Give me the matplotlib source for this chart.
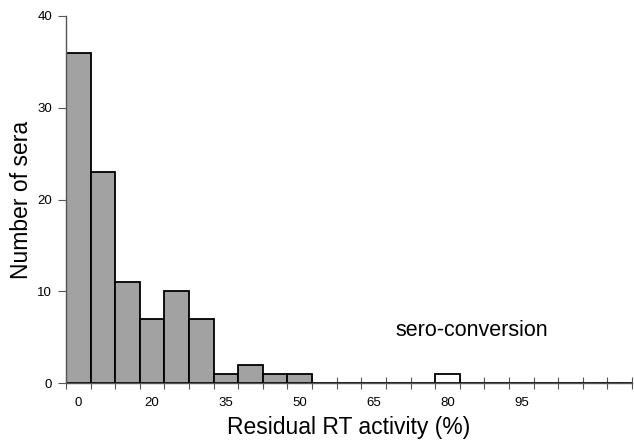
import matplotlib
matplotlib.use('Agg')
from matplotlib import pyplot as plt
import numpy as np

# Data (Excel-style category histogram)
counts      = [36, 23, 11, 7, 10, 7, 1, 2, 1, 1, 0, 0, 0, 0, 0, 1, 0, 0, 0, 0, 0, 0, 0]
open_bins   = [15]                     # sero-conversion bar, drawn white
label_pos   = [0, 3, 6, 9, 12, 15, 18]
tick_labels = ['0', '20', '35', '50', '65', '80', '95']
y_ticks     = [0, 10, 20, 30, 40]

plt.rcParams['font.family'] = ['Liberation Sans', 'DejaVu Sans']

fig = plt.figure(figsize=(6.34, 4.43), dpi=100)
ax = fig.add_axes([66/634, 60/443, 566/634, 367/443])

x = np.arange(len(counts))
colors = ['white' if i in open_bins else '#a2a2a2' for i in x]
ax.bar(x, counts, width=1.0, color=colors, edgecolor='black', linewidth=1.3, zorder=2)

ax.set_xlim(-0.5, -0.5 + 566/25)
ax.set_ylim(0, 40)

# Spines
for s in ['top', 'right']:
    ax.spines[s].set_visible(False)
for s in ['left', 'bottom']:
    ax.spines[s].set_color('#555555')
    ax.spines[s].set_linewidth(1.0)

# Ticks
ax.set_yticks(y_ticks)
ax.tick_params(axis='y', direction='out', length=6, width=0.8, color='#555555', labelsize=9.5, pad=4)
ax.set_xticks(label_pos)
ax.set_xticklabels(tick_labels)
ax.set_xticks(np.arange(len(counts) + 1) - 0.5, minor=True)
ax.tick_params(axis='x', which='major', length=0, labelsize=9.5, pad=10)
ax.tick_params(axis='x', which='minor', direction='inout', length=8, width=0.8, color='#555555')

ax.set_xlabel('Residual RT activity (%)', fontsize=16.5, labelpad=5)
ax.set_ylabel('Number of sera', fontsize=16.5, labelpad=3)

ax.text(16.0, 5.7, 'sero-conversion', fontsize=15.5, ha='center', va='center')

fig.savefig('out.png', dpi=100)
